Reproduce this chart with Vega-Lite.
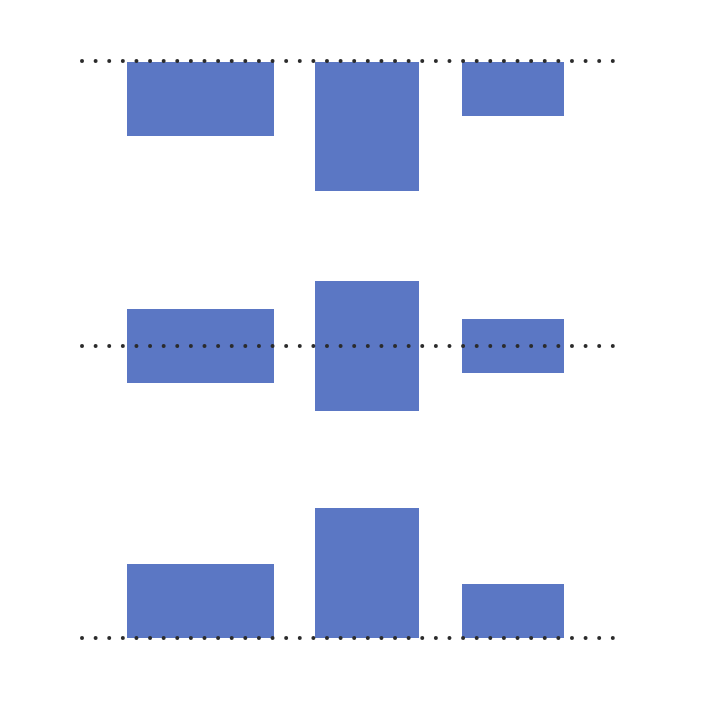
{
  "$schema": "https://vega.github.io/schema/vega-lite/v6.json",
  "width": 701,
  "height": 701,
  "padding": 0,
  "autosize": {"type": "fit", "contains": "padding"},
  "background": "white",
  "config": {"view": {"stroke": null}},
  "datasets": {
    "bars": [
      {"align": "top", "item": "A", "x0": 127, "x1": 274, "y0": 62, "y1": 136},
      {"align": "top", "item": "B", "x0": 315, "x1": 419, "y0": 62, "y1": 191},
      {"align": "top", "item": "C", "x0": 462, "x1": 564, "y0": 62, "y1": 116},
      {"align": "middle", "item": "A", "x0": 127, "x1": 274, "y0": 309, "y1": 383},
      {"align": "middle", "item": "B", "x0": 315, "x1": 419, "y0": 281, "y1": 411},
      {"align": "middle", "item": "C", "x0": 462, "x1": 564, "y0": 319, "y1": 373},
      {"align": "bottom", "item": "A", "x0": 127, "x1": 274, "y0": 564, "y1": 638},
      {"align": "bottom", "item": "B", "x0": 315, "x1": 419, "y0": 508, "y1": 638},
      {"align": "bottom", "item": "C", "x0": 462, "x1": 564, "y0": 584, "y1": 638}
    ],
    "guides": [
      {"align": "top", "y": 61, "x0": 82, "x1": 616},
      {"align": "middle", "y": 346, "x0": 82, "x1": 616},
      {"align": "bottom", "y": 638, "x0": 82, "x1": 616}
    ]
  },
  "layer": [
    {
      "data": {"name": "bars"},
      "mark": {"type": "rect", "color": "#5b77c4"},
      "encoding": {
        "x": {"field": "x0", "type": "quantitative", "scale": {"domain": [0, 701]}, "axis": null},
        "x2": {"field": "x1"},
        "y": {"field": "y0", "type": "quantitative", "scale": {"domain": [0, 701], "reverse": true}, "axis": null},
        "y2": {"field": "y1"}
      }
    },
    {
      "data": {"name": "guides"},
      "mark": {
        "type": "rule",
        "color": "#2b2b2b",
        "strokeWidth": 4,
        "strokeCap": "round",
        "strokeDash": [0.01, 13.6]
      },
      "encoding": {
        "x": {"field": "x0", "type": "quantitative", "scale": {"domain": [0, 701]}, "axis": null},
        "x2": {"field": "x1"},
        "y": {"field": "y", "type": "quantitative", "scale": {"domain": [0, 701], "reverse": true}, "axis": null}
      }
    }
  ]
}
